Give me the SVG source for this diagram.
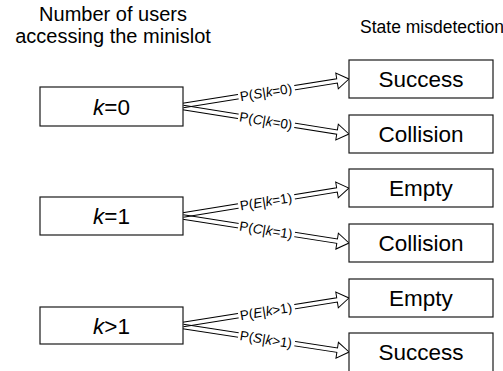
<svg xmlns="http://www.w3.org/2000/svg" xmlns:xlink="http://www.w3.org/1999/xlink" width="503" height="371" viewBox="0 0 503 371">
<style>
text{font-family:"Liberation Sans",Arial,sans-serif;fill:#000}
.head{font-size:20px;text-anchor:middle}
.box{fill:#fff;stroke:#1a1a1a;stroke-width:1.2}
.bt{font-size:22.5px;text-anchor:middle}
.lbl{font-size:13.5px;text-anchor:middle}
.lbg{fill:#fff;stroke:none}
.arr{fill:none;stroke:#000;stroke-width:1}
.i{font-style:italic}
</style>
<defs>
<path id="arr" class="arr" d="M0,-2.2 H156 V-8 L168,0 L156,8 V2.2 H0"/>
</defs>
<rect width="503" height="371" fill="#fff"/>
<g id="headers">
<text class="head" x="113" y="21">Number of users</text>
<text class="head" x="113" y="43">accessing the minislot</text>
<text x="360" y="33" style="font-size:17.5px">State misdetection</text>
</g>
<g id="connectors">
<g transform="translate(183,105.5) rotate(-9.07)"><use xlink:href="#arr" href="#arr"/><rect class="lbg" x="56" y="-5" width="57" height="10"/><text class="lbl" x="84" y="4.8">P(<tspan class="i">S</tspan>|<tspan class="i">k</tspan>=0)</text></g>
<g transform="translate(183,107.5) rotate(9.07)"><use xlink:href="#arr" href="#arr"/><rect class="lbg" x="56" y="-5" width="57" height="10"/><text class="lbl" x="84" y="4.8">P(<tspan class="i">C</tspan>|<tspan class="i">k</tspan>=0)</text></g>
<g transform="translate(183,215) rotate(-9.24)"><use xlink:href="#arr" href="#arr"/><rect class="lbg" x="56" y="-5" width="57" height="10"/><text class="lbl" x="84" y="4.8">P(<tspan class="i">E</tspan>|<tspan class="i">k</tspan>=1)</text></g>
<g transform="translate(183,217) rotate(8.9)"><use xlink:href="#arr" href="#arr"/><rect class="lbg" x="56" y="-5" width="57" height="10"/><text class="lbl" x="84" y="4.8">P(<tspan class="i">C</tspan>|<tspan class="i">k</tspan>=1)</text></g>
<g transform="translate(183,324.5) rotate(-9.07)"><use xlink:href="#arr" href="#arr"/><rect class="lbg" x="56" y="-5" width="57" height="10"/><text class="lbl" x="84" y="4.8">P(<tspan class="i">E</tspan>|<tspan class="i">k</tspan>&gt;1)</text></g>
<g transform="translate(183,326.5) rotate(8.73)"><use xlink:href="#arr" href="#arr"/><rect class="lbg" x="56" y="-5" width="57" height="10"/><text class="lbl" x="84" y="4.8">P(<tspan class="i">S</tspan>|<tspan class="i">k</tspan>&gt;1)</text></g>
</g>
<g id="node-k0"><rect class="box" x="40" y="87" width="143" height="39"/><text class="bt" x="111.5" y="114.5"><tspan class="i">k</tspan>=0</text></g>
<g id="node-k1"><rect class="box" x="40" y="197" width="143" height="38"/><text class="bt" x="111.5" y="224"><tspan class="i">k</tspan>=1</text></g>
<g id="node-kgt1"><rect class="box" x="40" y="307" width="143" height="37"/><text class="bt" x="111.5" y="333.5"><tspan class="i">k</tspan>&gt;1</text></g>
<g id="node-success0"><rect class="box" x="349" y="60" width="144" height="38"/><text class="bt" x="421" y="87">Success</text></g>
<g id="node-collision0"><rect class="box" x="349" y="115" width="144" height="38"/><text class="bt" x="421" y="142">Collision</text></g>
<g id="node-empty1"><rect class="box" x="349" y="169" width="144" height="38"/><text class="bt" x="421" y="196">Empty</text></g>
<g id="node-collision1"><rect class="box" x="349" y="224" width="144" height="38"/><text class="bt" x="421" y="251">Collision</text></g>
<g id="node-empty2"><rect class="box" x="349" y="279" width="144" height="38"/><text class="bt" x="421" y="306">Empty</text></g>
<g id="node-success2"><rect class="box" x="349" y="333" width="144" height="40"/><text class="bt" x="421" y="360">Success</text></g>
</svg>
